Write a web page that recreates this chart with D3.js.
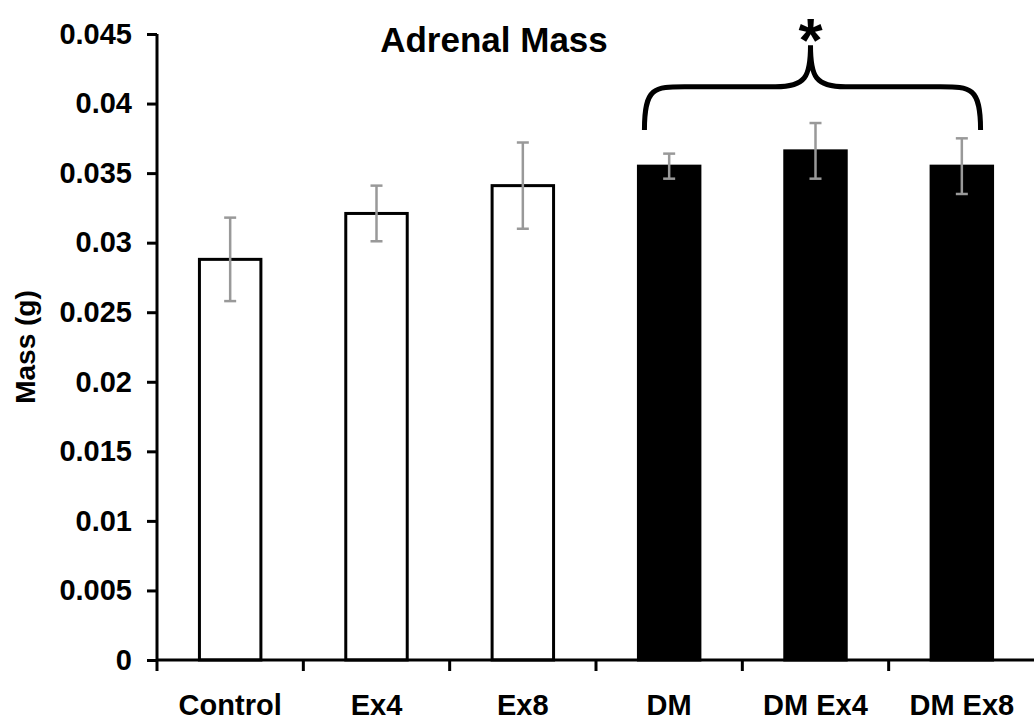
<!DOCTYPE html>
<html>
<head>
<meta charset="utf-8">
<script src="https://cdnjs.cloudflare.com/ajax/libs/d3/7.8.5/d3.min.js"></script>
<style>
  body { margin: 0; background: white; }
  text { font-family: "Liberation Sans", Arial, sans-serif; font-weight: bold; }
</style>
</head>
<body>
<svg width="1034" height="723"></svg>
<script>
// data
var groups = ['Control', 'Ex4', 'Ex8', 'DM', 'DM Ex4', 'DM Ex8'];
var means = [0.0288, 0.0321, 0.0341, 0.0355, 0.0366, 0.0355];
var errors = [0.0030, 0.0020, 0.0031, 0.0009, 0.0020, 0.0020];
var diabetic = [false, false, false, true, true, true];
var yTicks = [0, 0.005, 0.01, 0.015, 0.02, 0.025, 0.03, 0.035, 0.04, 0.045];

var svg = d3.select('svg');

// sizing
var margin = {top: 34, right: -1, bottom: 63, left: 157},
    width = +svg.attr('width') - margin.left - margin.right,
    height = +svg.attr('height') - margin.top - margin.bottom;

var g = svg.append('g')
    .attr('transform', 'translate(' + margin.left + ',' + margin.top + ')');

// scales
var x = d3.scaleBand()
    .domain(groups)
    .range([0, width])
    .paddingInner(0.58)
    .paddingOuter(0.29);

var y = d3.scaleLinear()
    .domain([0, 0.045])
    .range([height, 0]);

var rows = groups.map(function (k, i) {
    return {name: k, v: means[i], e: errors[i], dm: diabetic[i]};
});

// bars
g.selectAll('rect.bar')
    .data(rows)
    .enter().append('rect')
    .attr('class', 'bar')
    .attr('x', function (d) { return x(d.name); })
    .attr('y', function (d) { return y(d.v); })
    .attr('width', x.bandwidth())
    .attr('height', function (d) { return height - y(d.v); })
    .attr('fill', function (d) { return d.dm ? 'black' : 'white'; })
    .attr('stroke', 'black')
    .attr('stroke-width', 3);

// error bars
var eb = g.selectAll('g.err')
    .data(rows)
    .enter().append('g')
    .attr('class', 'err')
    .attr('stroke', '#999')
    .attr('stroke-width', 2.5);

eb.append('line')
    .attr('x1', function (d) { return x(d.name) + x.bandwidth() / 2; })
    .attr('x2', function (d) { return x(d.name) + x.bandwidth() / 2; })
    .attr('y1', function (d) { return y(d.v + d.e); })
    .attr('y2', function (d) { return y(d.v - d.e); });

[1, -1].forEach(function (s) {
    eb.append('line')
	.attr('x1', function (d) { return x(d.name) + x.bandwidth() / 2 - 6; })
	.attr('x2', function (d) { return x(d.name) + x.bandwidth() / 2 + 6; })
	.attr('y1', function (d) { return y(d.v + s * d.e); })
	.attr('y2', function (d) { return y(d.v + s * d.e); });
});

// axes
var yAxis = d3.axisLeft(y)
    .tickValues(yTicks)
    .tickFormat(function (d) { return d === 0 ? '0' : String(+d.toFixed(3)); })
    .tickSize(10)
    .tickPadding(15);

var yg = g.append('g').call(yAxis);
yg.select('.domain').remove();
yg.append('line')
    .attr('x1', 0).attr('x2', 0)
    .attr('y1', 0).attr('y2', height)
    .attr('stroke', 'black')
    .attr('stroke-width', 3);
yg.selectAll('.tick line').attr('stroke-width', 3);
yg.selectAll('.tick text')
    .attr('fill', 'black')
    .style('font-size', '29px');

// x axis ticks sit at band boundaries
var xg = g.append('g')
    .attr('transform', 'translate(0,' + height + ')');
xg.append('line')
    .attr('x1', 0).attr('x2', width)
    .attr('stroke', 'black')
    .attr('stroke-width', 3);
var step = x.step();
xg.selectAll('line.tk')
    .data(groups)
    .enter().append('line')
    .attr('class', 'tk')
    .attr('x1', function (d) { return x(d) + x.bandwidth() / 2 - step / 2; })
    .attr('x2', function (d) { return x(d) + x.bandwidth() / 2 - step / 2; })
    .attr('y1', 0).attr('y2', 11)
    .attr('stroke', 'black')
    .attr('stroke-width', 3);
xg.selectAll('text')
    .data(groups)
    .enter().append('text')
    .attr('x', function (d) { return x(d) + x.bandwidth() / 2; })
    .attr('y', 55)
    .attr('text-anchor', 'middle')
    .style('font-size', '29px')
    .text(function (d) { return d; });

// title and y label
svg.append('text')
    .attr('x', 494)
    .attr('y', 52)
    .attr('text-anchor', 'middle')
    .style('font-size', '35px')
    .text('Adrenal Mass');

svg.append('text')
    .attr('transform', 'translate(35,' + (margin.top + height / 2) + ') rotate(-90)')
    .attr('text-anchor', 'middle')
    .style('font-size', '28px')
    .text('Mass (g)');

// curly brace over the diabetic groups
var bx0 = x('DM') + 6,
    bx1 = x('DM Ex8') + x.bandwidth() - 12,
    bm = x('DM Ex4') + x.bandwidth() / 2 - 5,
    yEnd = y(0.0381), yMid = y(0.0412), yTip = y(0.0442);

var brace = d3.path();
brace.moveTo(bx0, yEnd);
brace.bezierCurveTo(bx0, yMid, bx0 + 10, yMid, bx0 + 40, yMid);
brace.lineTo(bm - 35, yMid);
brace.bezierCurveTo(bm - 5, yMid, bm, yMid - 10, bm, yTip);
brace.bezierCurveTo(bm, yMid - 10, bm + 5, yMid, bm + 35, yMid);
brace.lineTo(bx1 - 40, yMid);
brace.bezierCurveTo(bx1 - 10, yMid, bx1, yMid, bx1, yEnd);

g.append('path')
    .attr('d', brace.toString())
    .attr('fill', 'none')
    .attr('stroke', 'black')
    .attr('stroke-width', 5);

g.append('text')
    .attr('x', bm)
    .attr('y', yTip + 16)
    .attr('text-anchor', 'middle')
    .style('font-size', '62px')
    .text('*');
</script>
</body>
</html>
